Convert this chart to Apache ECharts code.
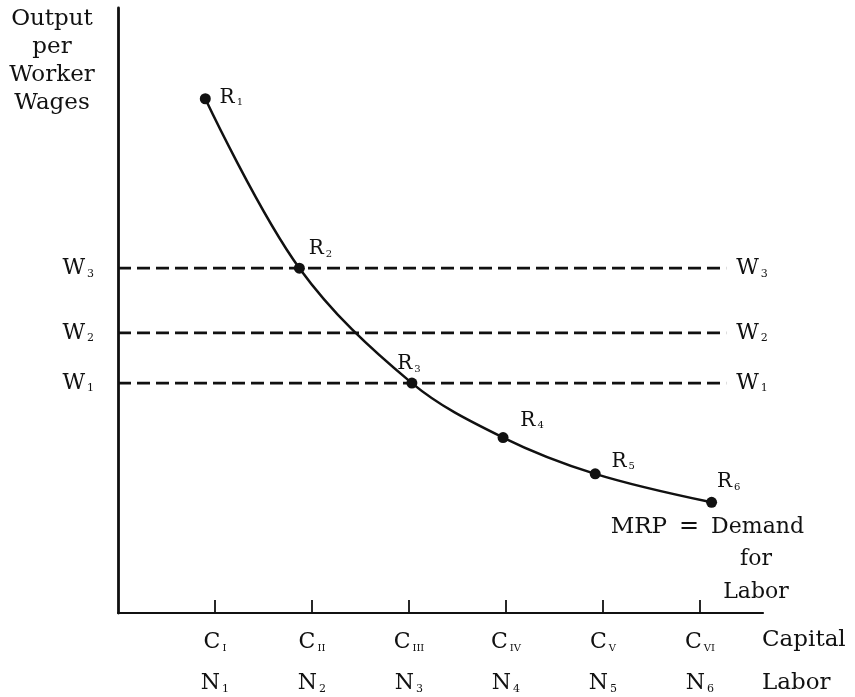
<!DOCTYPE html>
<html><head><meta charset="utf-8">
<script src="https://cdn.jsdelivr.net/npm/echarts@6/dist/echarts.min.js"></script>
<style>html,body{margin:0;padding:0;background:#fff}#c{width:855px;height:697px}</style>
</head><body><div id="c"></div>
<script>
// ---- data ----
const tickValues = [1, 2, 3, 4, 5, 6];
const capitalSubs = ['I', 'II', 'III', 'IV', 'V', 'VI'];
const laborSubs = ['1', '2', '3', '4', '5', '6'];
const curveX = [0.90, 1.87, 3.03, 3.97, 4.92, 6.12];
const curveY = [85, 57, 38, 29, 23, 18.3];
const pointSubs = ['1', '2', '3', '4', '5', '6'];
const wageLevels = [38, 46.3, 57];
const wageSubs = ['1', '2', '3'];
const wageLineStart = 0;
const wageLineEnd = 6.27;

// ---- styles ----
const FONT = '"DejaVu Serif", "Liberation Serif", serif';
const INK = '#111';
const pointLabelOffsets = [[26, -1], [21, -19], [-3, -19], [29, -17], [28, -12], [17, -20]];

const chart = echarts.init(document.getElementById('c'));

const sub = (size, pt) => ({ fontFamily: FONT, fontSize: size, lineHeight: size, color: INK, verticalAlign: 'middle', padding: [pt, 0, 0, 2] });
const main = (size, lh) => Object.assign({ fontFamily: FONT, fontSize: size, color: INK, verticalAlign: 'middle' }, lh ? { lineHeight: lh } : {});

const curveData = curveX.map((x, i) => ({
  value: [x, curveY[i]],
  label: {
    show: true, position: 'inside', offset: pointLabelOffsets[i],
    formatter: '{m|R}{s|' + pointSubs[i] + '}',
    rich: { m: main(20), s: sub(10, 10) }
  }
}));

const wageLabel = (i, pos, dist) => ({
  show: true, position: pos, distance: dist,
  formatter: '{m|W}{s|' + wageSubs[i] + '}',
  rich: { m: main(22), s: sub(11, 11) }
});

const wageSeries = wageLevels.map((w, i) => ({
  type: 'line',
  data: [
    { value: [wageLineStart, w], label: wageLabel(i, 'left', 24) },
    { value: [wageLineEnd, w], label: wageLabel(i, 'right', 10) }
  ],
  symbol: 'circle', symbolSize: 0, showSymbol: true,
  itemStyle: { color: INK },
  lineStyle: { color: INK, width: 2.6, type: [13, 6] },
  silent: true, z: 1
}));

chart.setOption({
  animation: false,
  backgroundColor: '#fff',
  grid: { left: 118, right: 92, top: 8, bottom: 84, outerBoundsMode: 'none', containLabel: false },
  xAxis: {
    type: 'value', min: 0, max: 6.65, interval: 1,
    axisLine: { lineStyle: { color: INK, width: 2.2 } },
    axisTick: { show: true, inside: true, length: 13, lineStyle: { color: INK, width: 1.8 }, customValues: tickValues },
    splitLine: { show: false },
    axisLabel: {
      customValues: tickValues,
      margin: 9,
      formatter: (v) => {
        const r = Math.round(v);
        const i = tickValues.indexOf(r);
        if (i < 0 || Math.abs(v - r) > 1e-6) return '';
        return '{c|C}{cs|' + capitalSubs[i] + '}\n{n|N}{ns|' + laborSubs[i] + '}';
      },
      rich: {
        c: main(22, 41),
        cs: sub(10, 11),
        n: main(22, 41),
        ns: sub(11, 11)
      }
    }
  },
  yAxis: {
    type: 'value', min: 0, max: 100,
    axisLine: { show: true, lineStyle: { color: INK, width: 2.8 } },
    axisTick: { show: false }, axisLabel: { show: false }, splitLine: { show: false }
  },
  graphic: [
    { type: 'text', x: 52, y: 5, style: { text: 'Output\nper\nWorker\nWages', font: '23px ' + FONT, fill: INK, textAlign: 'center', textVerticalAlign: 'top', lineHeight: 28 } },
    { type: 'text', x: 762, y: 662, style: { text: 'Capital\nLabor', font: '23px ' + FONT, fill: INK, textAlign: 'left', textVerticalAlign: 'middle', lineHeight: 43 } },
    { type: 'text', x: 804, y: 527, style: { text: '{m|MRP}{e|=}{a|Demand}', textAlign: 'right', textVerticalAlign: 'middle',
        rich: {
          m: { fontFamily: FONT, fontSize: 23, fill: INK, verticalAlign: 'middle' },
          e: { fontFamily: FONT, fontSize: 24, fill: INK, verticalAlign: 'middle', padding: [0, 12, 0, 12] },
          a: { fontFamily: FONT, fontSize: 22, fill: INK, verticalAlign: 'middle' }
        }, fill: INK, font: '22px ' + FONT } },
    { type: 'text', x: 756, y: 576, style: { text: 'for\nLabor', font: '22px ' + FONT, fill: INK, textAlign: 'center', textVerticalAlign: 'middle', lineHeight: 33 } }
  ],
  series: [
    {
      type: 'line', data: curveData, smooth: 0.35,
      symbol: 'circle', symbolSize: 11, showSymbol: true,
      itemStyle: { color: INK }, lineStyle: { color: INK, width: 2.5 },
      silent: true, z: 3
    }
  ].concat(wageSeries)
});
</script></body></html>
